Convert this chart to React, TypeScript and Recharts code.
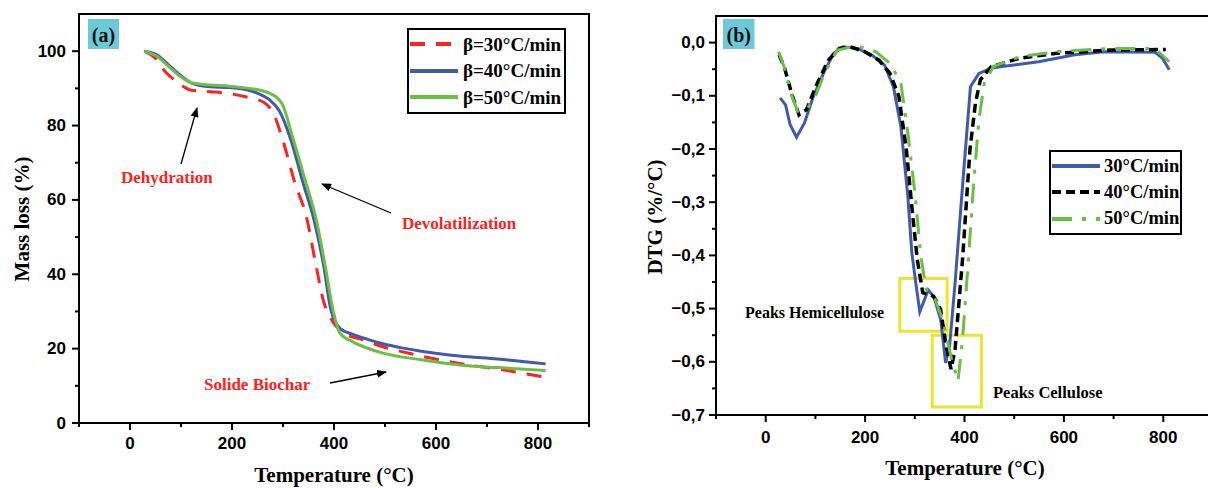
import React from "react";
import { LineChart, Line, XAxis, YAxis, Legend, ReferenceArea } from "recharts";

// ---- (a) TGA mass loss ----
const tga30Temp = [28, 49, 71, 90, 120, 158, 195, 233, 263, 282, 300, 323, 346, 364, 379, 398, 421, 458, 496, 533, 571, 646, 721, 815];
const tga30Mass = [100, 98.2, 94.2, 92, 89.5, 89.1, 88.6, 87.5, 86.2, 83, 75.9, 64.7, 55.4, 42.9, 33, 27.2, 24.1, 22.3, 20.5, 19.2, 18, 16, 14.5, 12.3];

const tga40Temp = [28, 52, 75, 98, 120, 158, 195, 233, 255, 274, 293, 316, 338, 361, 379, 394, 412, 436, 466, 496, 533, 571, 646, 721, 815];
const tga40Mass = [100, 99.1, 96.4, 93.6, 91.5, 90.4, 90.2, 89.5, 88.4, 86.9, 83.9, 75.9, 65.2, 54.5, 42.9, 30.4, 25.4, 23.9, 22.5, 21.3, 20.2, 19.3, 18, 17.2, 15.9];

const tga50Temp = [28, 52, 75, 98, 120, 158, 195, 233, 255, 274, 298, 319, 342, 367, 383, 398, 412, 436, 466, 496, 571, 646, 721, 815];
const tga50Mass = [100, 98.7, 96, 93.3, 91.5, 90.9, 90.6, 90, 89.5, 88.7, 85.9, 76.8, 66, 53.6, 42, 30.4, 24.1, 21.9, 20.1, 18.8, 17, 15.6, 14.9, 14.1];

// ---- (b) DTG ----
const dtg30Temp = [29, 40, 49, 62, 78, 96, 118, 137, 155, 184, 213, 239, 257, 272, 286, 294, 301, 310, 327, 338, 352, 362, 370, 381, 396, 412, 429, 454, 476, 549, 622, 681, 783, 798, 812];
const dtg30Rate = [-0.104, -0.117, -0.154, -0.178, -0.151, -0.101, -0.054, -0.02, -0.008, -0.011, -0.023, -0.042, -0.083, -0.158, -0.289, -0.395, -0.445, -0.506, -0.465, -0.477, -0.52, -0.602, -0.57, -0.452, -0.27, -0.083, -0.058, -0.048, -0.045, -0.036, -0.023, -0.017, -0.018, -0.029, -0.051];

const dtg40Temp = [27, 38, 53, 67, 82, 104, 126, 148, 170, 199, 228, 250, 268, 283, 294, 305, 316, 338, 352, 363, 373, 381, 396, 411, 422, 432, 454, 513, 586, 695, 805];
const dtg40Rate = [-0.023, -0.048, -0.098, -0.136, -0.126, -0.076, -0.033, -0.011, -0.008, -0.017, -0.033, -0.058, -0.101, -0.201, -0.308, -0.408, -0.47, -0.477, -0.502, -0.57, -0.614, -0.577, -0.408, -0.201, -0.114, -0.07, -0.045, -0.029, -0.02, -0.014, -0.013];

const dtg50Temp = [26, 38, 53, 64, 82, 100, 118, 144, 184, 221, 250, 272, 286, 301, 312, 323, 341, 356, 374, 387, 396, 407, 418, 429, 440, 458, 513, 586, 695, 783, 812];
const dtg50Rate = [-0.017, -0.048, -0.101, -0.129, -0.126, -0.101, -0.058, -0.014, -0.006, -0.017, -0.039, -0.076, -0.17, -0.289, -0.401, -0.464, -0.483, -0.52, -0.595, -0.636, -0.558, -0.42, -0.27, -0.145, -0.076, -0.045, -0.026, -0.017, -0.011, -0.011, -0.036];

// ticks
const tempTicks = [-100, 0, 100, 200, 300, 400, 500, 600, 700, 800, 900];
const massTicks = [0, 10, 20, 30, 40, 50, 60, 70, 80, 90, 100];
const dtgTicks = [-0.7, -0.65, -0.6, -0.55, -0.5, -0.45, -0.4, -0.35, -0.3, -0.25, -0.2, -0.15, -0.1, -0.05, 0];

const RED = "#FF2020";
const BLUE = "#3F5BA9";
const GREEN = "#6CBE45";
const YELLOW = "#EEE42C";
const CYAN = "#6CCAD8";

const toPoints = (xs: number[], ys: number[]) => xs.map((t, i) => ({ t, v: ys[i] }));

const tgaSeries = [
    { name: "β=30°C/min", data: toPoints(tga30Temp, tga30Mass), color: RED, dash: "15 11", width: 3 },
    { name: "β=40°C/min", data: toPoints(tga40Temp, tga40Mass), color: BLUE, dash: undefined, width: 3 },
    { name: "β=50°C/min", data: toPoints(tga50Temp, tga50Mass), color: GREEN, dash: undefined, width: 3 }
];

const dtgSeries = [
    { name: "30°C/min", data: toPoints(dtg30Temp, dtg30Rate), color: BLUE, dash: undefined, width: 3 },
    { name: "40°C/min", data: toPoints(dtg40Temp, dtg40Rate), color: "#000", dash: "9 5", width: 3.5 },
    { name: "50°C/min", data: toPoints(dtg50Temp, dtg50Rate), color: GREEN, dash: "20 10 4 10", width: 3 }
];

const tickFont = { fontFamily: "'Liberation Sans', Arial, sans-serif", fontWeight: 700, fontSize: 17, fill: "#000" };
const serifBold = { fontFamily: "'Liberation Serif', 'Times New Roman', serif", fontWeight: 700 };

const fmtDtg = (v: number) => v.toFixed(1).replace(".", ",").replace("-", "−");

// bottom axis tick: long mark + label on majors, short mark otherwise
const makeXTick = (labelDy: number) => (p: any) => {
    const v = p.payload.value;
    const major = v % 200 === 0;
    return (
        <g>
            <line x1={p.x} x2={p.x} y1={p.y} y2={p.y + (major ? 7 : 4)} stroke="#000" strokeWidth={2} />
            {major && (
                <text x={p.x} y={p.y + labelDy} textAnchor="middle" dominantBaseline="central" style={tickFont}>
                    {v}
                </text>
            )}
        </g>
    );
};

const makeYTick = (isMajor: (v: number) => boolean, fmt: (v: number) => string, gap: number) => (p: any) => {
    const v = p.payload.value;
    const major = isMajor(v);
    return (
        <g>
            <line x1={p.x} x2={p.x - (major ? 7 : 4)} y1={p.y} y2={p.y} stroke="#000" strokeWidth={2} />
            {major && (
                <text x={p.x - gap} y={p.y} textAnchor="end" dominantBaseline="central" style={tickFont}>
                    {fmt(v)}
                </text>
            )}
        </g>
    );
};

const BoxLegend = ({ items, width, rowH, sampleW, fontSize, gap }: any) => (
    <div style={{ width, boxSizing: "border-box", border: "2px solid #000", background: "#fff", padding: "1px 0" }}>
        {items.map((it: any) => (
            <div key={it.name} style={{ display: "flex", alignItems: "center", height: rowH }}>
                <svg width={sampleW} height={10} style={{ display: "block" }}>
                    <line x1={1} x2={sampleW - 1} y1={5} y2={5} stroke={it.color} strokeWidth={3.8} strokeDasharray={it.dash} />
                </svg>
                <span style={{ ...serifBold, marginLeft: gap, fontSize, color: "#000", whiteSpace: "nowrap", lineHeight: 1 }}>{it.name}</span>
            </div>
        ))}
    </div>
);

const Arrow = ({ x1, y1, x2, y2, id }: any) => (
    <g>
        <defs>
            <marker id={id} markerWidth="10" markerHeight="8" refX="9" refY="4" orient="auto" markerUnits="userSpaceOnUse">
                <path d="M0,0 L10,4 L0,8 Z" fill="#000" />
            </marker>
        </defs>
        <line x1={x1} y1={y1} x2={x2} y2={y2} stroke="#000" strokeWidth={1.3} markerEnd={`url(#${id})`} />
    </g>
);

const TgaPanel = () => (
    <LineChart width={600} height={488} margin={{ top: 14, right: 11, bottom: 0, left: 0 }}>
        <XAxis
            type="number"
            dataKey="t"
            domain={[-100, 900]}
            ticks={tempTicks}
            interval={0}
            height={65}
            axisLine={false}
            tickLine={false}
            tickSize={0}
            tickMargin={0}
            tick={makeXTick(20)}
        />
        <YAxis
            type="number"
            dataKey="v"
            domain={[0, 110]}
            ticks={massTicks}
            interval={0}
            width={79}
            axisLine={false}
            tickLine={false}
            tickSize={0}
            tickMargin={0}
            tick={makeYTick((v) => v % 20 === 0, (v) => String(v), 13)}
        />
        <ReferenceArea x1={-100} x2={900} y1={0} y2={110} fill="none" stroke="#000" strokeWidth={2} ifOverflow="visible" />
        {tgaSeries.map((s) => (
            <Line
                key={s.name}
                data={s.data}
                dataKey="v"
                name={s.name}
                type="monotone"
                stroke={s.color}
                strokeWidth={s.width}
                strokeDasharray={s.dash}
                dot={false}
                isAnimationActive={false}
            />
        ))}
        <Legend
            layout="vertical"
            align="center"
            verticalAlign="middle"
            wrapperStyle={{ left: 407, top: 28, width: "auto", height: "auto" }}
            content={() => <BoxLegend items={tgaSeries} width={159} rowH={26.6} sampleW={50} fontSize={19} gap={4} />}
        />
        <rect x={88} y={19} width={31} height={30} fill={CYAN} />
        <text x={103.5} y={35} textAnchor="middle" dominantBaseline="central" style={{ ...serifBold, fontSize: 20, fill: "#111" }}>
            (a)
        </text>
        <text x={22} y={219} transform="rotate(-90 22 219)" textAnchor="middle" dominantBaseline="central" style={{ ...serifBold, fontSize: 21, fill: "#000" }}>
            Mass loss (%)
        </text>
        <text x={334} y={475} textAnchor="middle" dominantBaseline="central" style={{ ...serifBold, fontSize: 21, fill: "#000" }}>
            Temperature (°C)
        </text>
        <text x={121} y={177} dominantBaseline="central" style={{ ...serifBold, fontSize: 17, fill: RED }}>
            Dehydration
        </text>
        <text x={402} y={223} dominantBaseline="central" style={{ ...serifBold, fontSize: 17, fill: RED }}>
            Devolatilization
        </text>
        <text x={204} y={384} dominantBaseline="central" style={{ ...serifBold, fontSize: 17, fill: RED }}>
            Solide Biochar
        </text>
        <Arrow id="arA1" x1={181} y1={164} x2={197} y2={108} />
        <Arrow id="arA2" x1={391} y1={213} x2={322} y2={184} />
        <Arrow id="arA3" x1={330} y1={383} x2={386} y2={372} />
    </LineChart>
);

const DtgPanel = () => (
    <LineChart width={600} height={488} margin={{ top: 16, right: 27, bottom: 0, left: 0 }}>
        <XAxis
            type="number"
            dataKey="t"
            domain={[-100, 900]}
            ticks={tempTicks}
            interval={0}
            height={73}
            axisLine={false}
            tickLine={false}
            tickSize={0}
            tickMargin={0}
            tick={makeXTick(22)}
        />
        <YAxis
            type="number"
            dataKey="v"
            domain={[-0.7, 0.05]}
            ticks={dtgTicks}
            interval={0}
            width={76}
            axisLine={false}
            tickLine={false}
            tickSize={0}
            tickMargin={0}
            tick={makeYTick((v) => Math.round(v * 100) % 10 === 0, fmtDtg, 11)}
        />
        <ReferenceArea x1={-100} x2={900} y1={-0.7} y2={0.05} fill="none" stroke="#000" strokeWidth={2} ifOverflow="visible" />
        {dtgSeries.map((s) => (
            <Line
                key={s.name}
                data={s.data}
                dataKey="v"
                name={s.name}
                type="linear"
                stroke={s.color}
                strokeWidth={s.width}
                strokeDasharray={s.dash}
                dot={false}
                isAnimationActive={false}
            />
        ))}
        <ReferenceArea x1={270} x2={365} y1={-0.5425} y2={-0.4434} fill="none" stroke={YELLOW} strokeWidth={3} ifOverflow="visible" />
        <ReferenceArea x1={335} x2={434} y1={-0.685} y2={-0.55} fill="none" stroke={YELLOW} strokeWidth={3} ifOverflow="visible" />
        <Legend
            layout="vertical"
            align="center"
            verticalAlign="middle"
            wrapperStyle={{ left: 409, top: 150, width: "auto", height: "auto" }}
            content={() => <BoxLegend items={dtgSeries} width={133} rowH={26.3} sampleW={50} fontSize={18.5} gap={3} />}
        />
        <rect x={83} y={19} width={31.5} height={30} fill={CYAN} />
        <text x={98.7} y={35} textAnchor="middle" dominantBaseline="central" style={{ ...serifBold, fontSize: 20, fill: "#111" }}>
            (b)
        </text>
        <text x={15} y={217} transform="rotate(-90 15 217)" textAnchor="middle" dominantBaseline="central" style={{ ...serifBold, fontSize: 21, fill: "#000" }}>
            DTG (%/°C)
        </text>
        <text x={325} y={468} textAnchor="middle" dominantBaseline="central" style={{ ...serifBold, fontSize: 21, fill: "#000" }}>
            Temperature (°C)
        </text>
        <text x={105} y={312} dominantBaseline="central" style={{ ...serifBold, fontSize: 16, fill: "#000" }}>
            Peaks Hemicellulose
        </text>
        <text x={353} y={392} dominantBaseline="central" style={{ ...serifBold, fontSize: 16.5, fill: "#000" }}>
            Peaks Cellulose
        </text>
    </LineChart>
);

export default function App() {
    return (
        <div style={{ position: "fixed", left: 0, top: 0, width: 1208, height: 488, overflow: "hidden", background: "#fff" }}>
            <div style={{ position: "absolute", left: 0, top: 0 }}>
                <TgaPanel />
            </div>
            <div style={{ position: "absolute", left: 640, top: 0 }}>
                <DtgPanel />
            </div>
        </div>
    );
}
